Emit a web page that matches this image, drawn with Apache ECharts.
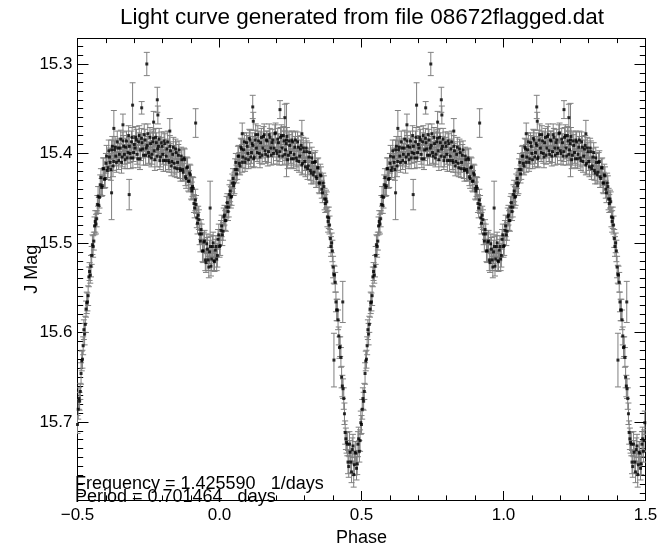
<!DOCTYPE html>
<html>
<head>
<meta charset="utf-8">
<script src="https://cdn.jsdelivr.net/npm/echarts@6/dist/echarts.min.js"></script>
<style>
html,body{margin:0;padding:0;background:#fff;}
#chart{width:661px;height:547px;}
</style>
</head>
<body>
<div id="chart"></div>
<script>
// ---- data: one folded cycle (phase -0.5..0.5), drawn twice (phase and phase + 1) ----
const phaseA = [
-0.500,-0.495,-0.490,-0.485,-0.480,-0.475,-0.470,-0.465,-0.460,-0.455,
-0.450,-0.445,-0.440,-0.435,-0.430,-0.425,-0.420,-0.415,-0.410,-0.405,
-0.400,-0.395,-0.390,-0.385,-0.380,-0.375,-0.370,-0.365,-0.360,-0.355,
-0.350,-0.345,-0.340,-0.335,-0.330,-0.325,-0.320,-0.315,-0.310,-0.305,
-0.300,-0.295,-0.290,-0.285,-0.280,-0.275,-0.270,-0.265,-0.260,-0.255,
-0.250,-0.245,-0.240,-0.235,-0.230,-0.225,-0.220,-0.215,-0.210,-0.205,
-0.200,-0.195,-0.190,-0.185,-0.180,-0.175,-0.170,-0.165,-0.160,-0.155,
-0.150,-0.145,-0.140,-0.135,-0.130,-0.125,-0.120,-0.115,-0.110,-0.105,
-0.100,-0.095,-0.090,-0.085,-0.080,-0.075,-0.070,-0.065,-0.060,-0.055,
-0.050,-0.045,-0.040,-0.035,-0.030,-0.025,-0.020,-0.015,-0.010,-0.005,
0.000,0.005,0.010,0.015,0.020,0.025,0.030,0.035,0.040,0.045,
0.050,0.055,0.060,0.065,0.070,0.075,0.080,0.085,0.090,0.095,
0.100,0.105,0.110,0.115,0.120,0.125,0.130,0.135,0.140,0.145,
0.150,0.155,0.160,0.165,0.170,0.175,0.180,0.185,0.190,0.195,
0.200,0.205,0.210,0.215,0.220,0.225,0.230,0.235,0.240,0.245,
0.250,0.255,0.260,0.265,0.270,0.275,0.280,0.285,0.290,0.295,
0.300,0.305,0.310,0.315,0.320,0.325,0.330,0.335,0.340,0.345,
0.350,0.355,0.360,0.365,0.370,0.375,0.380,0.385,0.390,0.395,
0.400,0.405,0.410,0.415,0.420,0.425,0.430,0.435,0.440,0.445,
0.450,0.455,0.460,0.465,0.470,0.475,0.480,0.485,0.490,0.495
];
const jmagA = [
15.703,15.674,15.666,15.632,15.615,15.602,15.574,15.566,15.538,15.536,
15.514,15.504,15.481,15.479,15.457,15.458,15.435,15.438,15.417,15.429,
15.411,15.419,15.397,15.410,15.396,15.414,15.396,15.403,15.387,15.408,
15.394,15.410,15.386,15.401,15.393,15.405,15.380,15.400,15.387,15.405,
15.390,15.382,15.401,15.387,15.406,15.383,15.395,15.379,15.402,15.391,
15.399,15.382,15.405,15.387,15.397,15.382,15.403,15.392,15.408,15.388,
15.401,15.386,15.408,15.395,15.408,15.392,15.414,15.401,15.411,15.395,
15.417,15.402,15.417,15.403,15.418,15.405,15.426,15.416,15.431,15.422,
15.439,15.437,15.456,15.452,15.472,15.469,15.490,15.485,15.509,15.499,
15.519,15.501,15.519,15.510,15.526,15.504,15.520,15.508,15.518,15.496,
15.504,15.486,15.491,15.471,15.475,15.460,15.465,15.446,15.449,15.433,
15.436,15.418,15.423,15.403,15.411,15.393,15.410,15.396,15.410,15.388,
15.400,15.383,15.404,15.389,15.406,15.385,15.394,15.379,15.400,15.388,
15.402,15.381,15.397,15.385,15.403,15.379,15.394,15.388,15.400,15.378,
15.397,15.384,15.403,15.382,15.394,15.380,15.401,15.389,15.407,15.386,
15.399,15.385,15.406,15.393,15.405,15.387,15.409,15.395,15.413,15.394,
15.409,15.394,15.417,15.404,15.419,15.405,15.424,15.410,15.426,15.416,
15.433,15.424,15.440,15.433,15.451,15.451,15.471,15.472,15.495,15.500,
15.527,15.536,15.566,15.575,15.604,15.616,15.650,15.663,15.691,15.719,
15.725,15.750,15.734,15.756,15.727,15.748,15.735,15.747,15.719,15.721
];
const errA = [
0.010,0.012,0.009,0.011,0.010,0.012,0.009,0.010,0.011,0.009,
0.010,0.012,0.010,0.011,0.010,0.009,0.011,0.010,0.012,0.010,
0.011,0.010,0.012,0.010,0.011,0.012,0.010,0.011,0.012,0.010,
0.011,0.012,0.010,0.011,0.010,0.012,0.011,0.010,0.012,0.011,
0.010,0.012,0.011,0.010,0.012,0.011,0.010,0.012,0.011,0.010,
0.012,0.011,0.010,0.012,0.011,0.010,0.012,0.011,0.010,0.012,
0.011,0.010,0.012,0.011,0.010,0.012,0.011,0.010,0.012,0.011,
0.010,0.012,0.011,0.010,0.012,0.011,0.010,0.012,0.011,0.010,
0.012,0.011,0.010,0.012,0.011,0.010,0.012,0.011,0.012,0.011,
0.012,0.011,0.012,0.013,0.011,0.012,0.011,0.012,0.013,0.011,
0.012,0.011,0.012,0.010,0.011,0.012,0.010,0.011,0.012,0.010,
0.011,0.012,0.010,0.011,0.012,0.010,0.011,0.012,0.010,0.011,
0.012,0.010,0.011,0.012,0.010,0.011,0.012,0.010,0.011,0.012,
0.010,0.011,0.012,0.010,0.011,0.012,0.010,0.011,0.012,0.010,
0.011,0.012,0.010,0.011,0.012,0.010,0.011,0.012,0.010,0.011,
0.012,0.010,0.011,0.012,0.010,0.011,0.012,0.010,0.011,0.012,
0.010,0.011,0.012,0.010,0.011,0.012,0.010,0.011,0.012,0.010,
0.011,0.012,0.010,0.011,0.012,0.010,0.011,0.012,0.010,0.011,
0.012,0.010,0.011,0.012,0.010,0.011,0.012,0.011,0.012,0.012,
0.013,0.012,0.013,0.012,0.013,0.012,0.013,0.012,0.013,0.012
];
const phaseB = [
-0.4975,-0.4925,-0.4875,-0.4825,-0.4775,-0.4725,-0.4675,-0.4625,-0.4575,-0.4525,
-0.4475,-0.4425,-0.4375,-0.4325,-0.4275,-0.4225,-0.4175,-0.4125,-0.4075,-0.4025,
-0.3975,-0.3925,-0.3875,-0.3825,-0.3775,-0.3725,-0.3675,-0.3625,-0.3575,-0.3525,
-0.3475,-0.3425,-0.3375,-0.3325,-0.3275,-0.3225,-0.3175,-0.3125,-0.3075,-0.3025,
-0.2975,-0.2925,-0.2875,-0.2825,-0.2775,-0.2725,-0.2675,-0.2625,-0.2575,-0.2525,
-0.2475,-0.2425,-0.2375,-0.2325,-0.2275,-0.2225,-0.2175,-0.2125,-0.2075,-0.2025,
-0.1975,-0.1925,-0.1875,-0.1825,-0.1775,-0.1725,-0.1675,-0.1625,-0.1575,-0.1525,
-0.1475,-0.1425,-0.1375,-0.1325,-0.1275,-0.1225,-0.1175,-0.1125,-0.1075,-0.1025,
-0.0975,-0.0925,-0.0875,-0.0825,-0.0775,-0.0725,-0.0675,-0.0625,-0.0575,-0.0525,
-0.0475,-0.0425,-0.0375,-0.0325,-0.0275,-0.0225,-0.0175,-0.0125,-0.0075,-0.0025,
0.0025,0.0075,0.0125,0.0175,0.0225,0.0275,0.0325,0.0375,0.0425,0.0475,
0.0525,0.0575,0.0625,0.0675,0.0725,0.0775,0.0825,0.0875,0.0925,0.0975,
0.1025,0.1075,0.1125,0.1175,0.1225,0.1275,0.1325,0.1375,0.1425,0.1475,
0.1525,0.1575,0.1625,0.1675,0.1725,0.1775,0.1825,0.1875,0.1925,0.1975,
0.2025,0.2075,0.2125,0.2175,0.2225,0.2275,0.2325,0.2375,0.2425,0.2475,
0.2525,0.2575,0.2625,0.2675,0.2725,0.2775,0.2825,0.2875,0.2925,0.2975,
0.3025,0.3075,0.3125,0.3175,0.3225,0.3275,0.3325,0.3375,0.3425,0.3475,
0.3525,0.3575,0.3625,0.3675,0.3725,0.3775,0.3825,0.3875,0.3925,0.3975,
0.4025,0.4075,0.4125,0.4175,0.4225,0.4275,0.4325,0.4375,0.4425,0.4475,
0.4525,0.4575,0.4625,0.4675,0.4725,0.4775,0.4825,0.4875,0.4925,0.4975
];
const jmagB = [
15.686,15.677,15.646,15.630,15.597,15.591,15.567,15.559,15.532,15.526,
15.502,15.498,15.476,15.473,15.448,15.449,15.427,15.436,15.417,15.428,
15.403,15.416,15.404,15.418,15.392,15.409,15.393,15.410,15.394,15.401,
15.384,15.404,15.392,15.407,15.386,15.399,15.392,15.405,15.382,15.399,
15.394,15.385,15.406,15.380,15.396,15.388,15.402,15.385,15.394,15.378,
15.403,15.389,15.401,15.383,15.407,15.388,15.395,15.384,15.404,15.392,
15.408,15.389,15.403,15.387,15.410,15.397,15.409,15.393,15.416,15.399,
15.410,15.396,15.419,15.407,15.421,15.407,15.428,15.415,15.431,15.424,
15.442,15.439,15.461,15.457,15.478,15.474,15.498,15.490,15.509,15.498,
15.522,15.507,15.527,15.504,15.518,15.500,15.521,15.504,15.514,15.491,
15.503,15.481,15.487,15.469,15.475,15.455,15.460,15.442,15.448,15.428,
15.433,15.410,15.418,15.403,15.414,15.395,15.404,15.387,15.406,15.392,
15.407,15.385,15.399,15.391,15.404,15.379,15.399,15.386,15.404,15.382,
15.394,15.379,15.401,15.386,15.398,15.382,15.402,15.385,15.394,15.377,
15.400,15.388,15.398,15.380,15.403,15.386,15.396,15.381,15.402,15.391,
15.406,15.387,15.401,15.385,15.408,15.393,15.403,15.391,15.411,15.398,
15.415,15.398,15.414,15.399,15.422,15.410,15.421,15.409,15.428,15.416,
15.433,15.425,15.444,15.437,15.456,15.454,15.476,15.480,15.504,15.509,
15.535,15.544,15.575,15.586,15.617,15.628,15.660,15.674,15.712,15.723,
15.745,15.725,15.745,15.731,15.759,15.734,15.752,15.725,15.733,15.701
];
const errB = [
0.011,0.010,0.012,0.010,0.011,0.009,0.012,0.011,0.010,0.012,
0.011,0.010,0.012,0.009,0.011,0.012,0.010,0.011,0.012,0.010,
0.012,0.011,0.010,0.012,0.011,0.010,0.012,0.011,0.010,0.012,
0.010,0.011,0.012,0.010,0.011,0.012,0.010,0.012,0.011,0.010,
0.011,0.012,0.010,0.011,0.012,0.010,0.011,0.012,0.010,0.011,
0.010,0.012,0.011,0.010,0.012,0.011,0.010,0.012,0.011,0.010,
0.012,0.011,0.010,0.012,0.011,0.010,0.012,0.011,0.010,0.012,
0.011,0.010,0.012,0.011,0.010,0.012,0.011,0.010,0.012,0.011,
0.010,0.012,0.011,0.010,0.012,0.011,0.012,0.011,0.013,0.012,
0.011,0.013,0.012,0.011,0.013,0.012,0.011,0.012,0.013,0.012,
0.011,0.012,0.010,0.011,0.012,0.010,0.011,0.012,0.010,0.011,
0.012,0.010,0.011,0.012,0.010,0.011,0.012,0.010,0.011,0.012,
0.010,0.011,0.012,0.010,0.011,0.012,0.010,0.011,0.012,0.010,
0.011,0.012,0.010,0.011,0.012,0.010,0.011,0.012,0.010,0.011,
0.012,0.010,0.011,0.012,0.010,0.011,0.012,0.010,0.011,0.012,
0.010,0.011,0.012,0.010,0.011,0.012,0.010,0.011,0.012,0.010,
0.011,0.012,0.010,0.011,0.012,0.010,0.011,0.012,0.010,0.011,
0.012,0.010,0.011,0.012,0.010,0.011,0.012,0.010,0.011,0.012,
0.010,0.011,0.012,0.011,0.012,0.011,0.012,0.012,0.013,0.012,
0.013,0.014,0.012,0.013,0.014,0.012,0.013,0.014,0.012,0.013
];
const outlierPhase = [
-0.256,-0.306,-0.274,-0.219,-0.217,-0.084,-0.318,-0.380,-0.033,0.117,
0.119,0.213,0.230,0.236,0.434,0.403,-0.372,-0.340,-0.232,-0.175,
0.080,0.290
];
const outlierMag = [
15.300,15.346,15.349,15.340,15.357,15.366,15.446,15.444,15.461,15.348,
15.364,15.351,15.360,15.385,15.566,15.631,15.372,15.368,15.365,15.375,
15.378,15.378
];
const outlierErr = [
0.013,0.025,0.007,0.014,0.010,0.016,0.017,0.030,0.030,0.013,
0.010,0.010,0.015,0.041,0.023,0.030,0.020,0.012,0.012,0.014,
0.012,0.015
];
const cycleShift = [0, 1];

const yMajorTicks = [15.3, 15.4, 15.5, 15.6, 15.7];
const yMinorTicks = [];
for (let k = 1528; k <= 1578; k++) yMinorTicks.push(k / 100);

const titleText = 'Light curve generated from file 08672flagged.dat';
const freqText = 'Frequency = 1.425590   1/days';
const periodText = 'Period = 0.701464   days';

// ---- build points ----
const groups = [[phaseA, jmagA, errA], [phaseB, jmagB, errB], [outlierPhase, outlierMag, outlierErr]];
const points = [];
cycleShift.forEach(function (s) {
  groups.forEach(function (g) {
    for (let i = 0; i < g[0].length; i++) points.push([g[0][i] + s, g[1][i], g[2][i]]);
  });
});

const Y_MIN = 15.2715, Y_MAX = 15.7874;
const FONT = '"Liberation Sans", Arial, Helvetica, sans-serif';

function errBar(params, api) {
  const x = api.value(0), y = api.value(1), e = api.value(2);
  const a = api.coord([x, y - e]);
  const b = api.coord([x, y + e]);
  const hw = 3;
  const st = { stroke: '#808080', lineWidth: 1 };
  return {
    type: 'group',
    children: [
      { type: 'line', shape: { x1: a[0], y1: a[1], x2: b[0], y2: b[1] }, style: st },
      { type: 'line', shape: { x1: a[0] - hw, y1: a[1], x2: a[0] + hw, y2: a[1] }, style: st },
      { type: 'line', shape: { x1: b[0] - hw, y1: b[1], x2: b[0] + hw, y2: b[1] }, style: st }
    ]
  };
}

function fmtX(v) {
  const s = Math.abs(v).toFixed(1);
  return v < 0 ? '\u2212' + s : s;
}

const frameLine = { show: true, onZero: false, lineStyle: { color: '#000', width: 1 } };
const noLine = { show: false, onZero: false };

const chart = echarts.init(document.getElementById('chart'), null, { renderer: 'canvas' });
chart.setOption({
  backgroundColor: '#fff',
  animation: false,
  textStyle: { fontFamily: FONT },
  grid: { left: 77.5, right: 15.5, top: 38.5, bottom: 47, containLabel: false, outerBoundsMode: 'none' },
  xAxis: [
    {
      type: 'value', position: 'bottom', min: -0.5, max: 1.5, interval: 0.5,
      axisLine: frameLine,
      axisTick: { show: true, inside: true, length: 9, lineStyle: { color: '#000' } },
      minorTick: { show: true, splitNumber: 5, length: 4.6, lineStyle: { color: '#000' } },
      splitLine: { show: false },
      axisLabel: { show: true, color: '#000', fontSize: 17, fontFamily: FONT, margin: 7, formatter: fmtX },
      name: 'Phase', nameLocation: 'middle', nameGap: 28,
      nameTextStyle: { color: '#000', fontSize: 18, fontFamily: FONT }
    },
    {
      type: 'value', position: 'top', min: -0.5, max: 1.5, interval: 0.5,
      axisLine: frameLine,
      axisTick: { show: true, inside: true, length: 9, lineStyle: { color: '#000' } },
      minorTick: { show: true, splitNumber: 5, length: 4.6, lineStyle: { color: '#000' } },
      splitLine: { show: false },
      axisLabel: { show: false }
    }
  ],
  yAxis: [
    {
      type: 'value', position: 'left', inverse: true, min: Y_MIN, max: Y_MAX,
      axisLine: frameLine,
      axisTick: { show: true, inside: true, length: 11, customValues: yMajorTicks, lineStyle: { color: '#000' } },
      splitLine: { show: false },
      axisLabel: { show: true, color: '#000', fontSize: 17, fontFamily: FONT, margin: 5,
                   customValues: yMajorTicks, formatter: function (v) { return v.toFixed(1); } },
      name: 'J Mag', nameLocation: 'middle', nameGap: 36, nameRotate: 90, nameMoveOverlap: false,
      nameTextStyle: { color: '#000', fontSize: 18, fontFamily: FONT }
    },
    {
      type: 'value', position: 'left', inverse: true, min: Y_MIN, max: Y_MAX,
      axisLine: noLine,
      axisTick: { show: true, inside: true, length: 5.7, customValues: yMinorTicks, lineStyle: { color: '#000' } },
      splitLine: { show: false },
      axisLabel: { show: false }
    },
    {
      type: 'value', position: 'right', inverse: true, min: Y_MIN, max: Y_MAX,
      axisLine: frameLine,
      axisTick: { show: true, inside: true, length: 11, customValues: yMajorTicks, lineStyle: { color: '#000' } },
      splitLine: { show: false },
      axisLabel: { show: false }
    },
    {
      type: 'value', position: 'right', inverse: true, min: Y_MIN, max: Y_MAX,
      axisLine: noLine,
      axisTick: { show: true, inside: true, length: 5.7, customValues: yMinorTicks, lineStyle: { color: '#000' } },
      splitLine: { show: false },
      axisLabel: { show: false }
    }
  ],
  series: [
    {
      type: 'custom', name: 'err', renderItem: errBar, data: points,
      xAxisIndex: 0, yAxisIndex: 0, encode: { x: 0, y: 1 }, clip: true, silent: true, z: 2
    },
    {
      type: 'scatter', name: 'J', data: points.map(function (p) { return [p[0], p[1]]; }),
      xAxisIndex: 0, yAxisIndex: 0, symbol: 'rect', symbolSize: 3,
      itemStyle: { color: '#000' }, clip: true, silent: true, z: 3
    }
  ],
  graphic: [
    { type: 'text', x: 362, y: 18,
      style: { text: titleText, font: '22.5px ' + FONT, fill: '#000', align: 'center', verticalAlign: 'middle' } },
    { type: 'text', x: 75, y: 484,
      style: { text: freqText, font: '18px ' + FONT, fill: '#000', verticalAlign: 'middle' } },
    { type: 'text', x: 75, y: 497,
      style: { text: periodText, font: '18px ' + FONT, fill: '#000', verticalAlign: 'middle' } }
  ]
});
</script>
</body>
</html>
